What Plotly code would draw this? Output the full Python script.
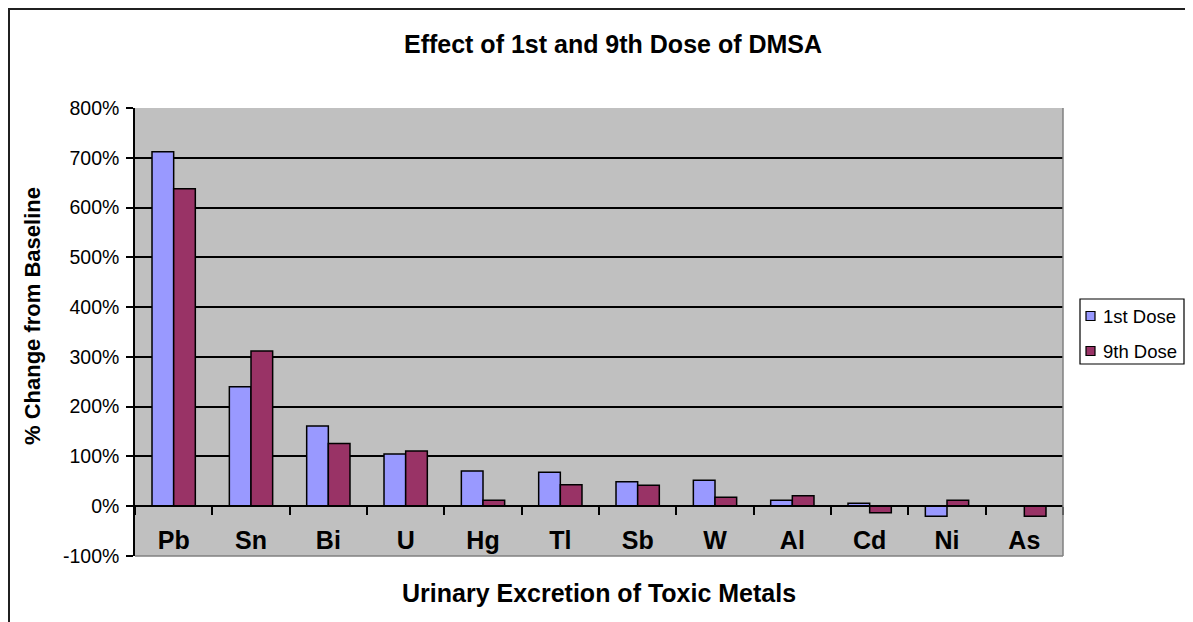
import plotly.graph_objects as go

metals = ["Pb", "Sn", "Bi", "U", "Hg", "Tl", "Sb", "W", "Al", "Cd", "Ni", "As"]
dose1 = [712, 240, 161, 105, 71, 68, 49, 52, 12, 6, -20, 0]
dose9 = [638, 312, 126, 111, 12, 43, 42, 18, 21, -13, 12, -20]
yticks = [-100, 0, 100, 200, 300, 400, 500, 600, 700, 800]
series_names = ["1st Dose", "9th Dose"]
series_colors = ["#9999FF", "#993366"]

title_text = "Effect of 1st and 9th Dose of DMSA"
xtitle = "Urinary Excretion of Toxic Metals"
ytitle = "% Change from Baseline"

FONT = "Liberation Sans, Arial, sans-serif"
ymin, ymax = -100, 800

# window-pixel -> paper helpers (plot area spans x 135..1063, y 108..556 in the window)
def px(x):
    return (x - 135) / 928

def py(y):
    return (556 - y) / 448

fig = go.Figure()
for name, vals, col in zip(series_names, [dose1, dose9], series_colors):
    fig.add_trace(go.Bar(x=metals, y=vals, name=name,
                         marker=dict(color=col, line=dict(color="black", width=1.5))))

shapes = [
    # outer chart frame
    dict(type="rect", xref="paper", yref="paper",
         x0=px(9), x1=px(1300), y0=py(700), y1=py(9),
         line=dict(color="#202020", width=2), layer="below"),
    # right/bottom plot-area border
    dict(type="line", xref="paper", yref="paper", x0=1, x1=1, y0=0, y1=1,
         line=dict(color="#808080", width=1.5)),
    dict(type="line", xref="paper", yref="paper", x0=0, x1=1, y0=0, y1=0,
         line=dict(color="#808080", width=1.5)),
    # legend box
    dict(type="rect", xref="paper", yref="paper",
         x0=px(1080), x1=px(1184), y0=py(364), y1=py(299),
         line=dict(color="black", width=1.2), fillcolor="white"),
]
annotations = [
    dict(text="<b>" + xtitle + "</b>", xref="paper", yref="paper",
         x=0.5, y=py(593), xanchor="center", yanchor="middle",
         showarrow=False, font=dict(size=25, family=FONT)),
    dict(text="<b>" + ytitle + "</b>", xref="paper", yref="paper",
         x=px(32), y=py(316), xanchor="center", yanchor="middle", textangle=-90,
         showarrow=False, font=dict(size=22, family=FONT)),
]
legend_y = [316, 351]
for name, col, ly in zip(series_names, series_colors, legend_y):
    shapes.append(dict(type="rect", xref="paper", yref="paper",
                       x0=px(1086), x1=px(1095), y0=py(ly + 4.5), y1=py(ly - 4.5),
                       line=dict(color="black", width=1.2), fillcolor=col))
    annotations.append(dict(text=name, xref="paper", yref="paper",
                            x=px(1101), y=py(ly), xanchor="left", yanchor="middle",
                            showarrow=False, font=dict(size=18.5, family=FONT)))

fig.update_layout(
    width=1177, height=614,
    margin=dict(l=127, r=122, t=100, b=66),
    paper_bgcolor="white",
    plot_bgcolor="#C0C0C0",
    barmode="group", bargap=0.44, bargroupgap=0,
    font=dict(family=FONT, color="black"),
    title=dict(text="<b>" + title_text + "</b>", x=(613 - 8) / 1177, xanchor="center",
               y=1 - (44 - 8) / 614, yanchor="middle",
               font=dict(size=25, family=FONT, color="black")),
    showlegend=False,
    xaxis=dict(anchor="free", position=(0 - ymin) / (ymax - ymin),
               showline=True, linecolor="black", linewidth=1.5,
               ticks="outside", ticklen=8, tickcolor="black", tickwidth=1.5,
               tickson="boundaries", showgrid=False,
               tickfont=dict(size=25, family=FONT),
               tickprefix="<b>", ticksuffix="</b>",
               ticklabelstandoff=12),
    yaxis=dict(range=[ymin, ymax], tickvals=yticks,
               ticktext=[f"{v}%" for v in yticks],
               showline=True, linecolor="black", linewidth=1.5,
               ticks="outside", ticklen=7, tickcolor="black", tickwidth=1.5,
               showgrid=True, gridcolor="black", gridwidth=1.5,
               zeroline=True, zerolinecolor="black", zerolinewidth=1.5,
               tickfont=dict(size=19.5, family=FONT),
               ticklabelstandoff=3),
    annotations=annotations,
    shapes=shapes,
)

fig.write_html("out.html")
